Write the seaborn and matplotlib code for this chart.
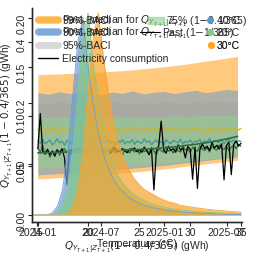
import numpy as np
import pandas as pd
import matplotlib
matplotlib.use("Agg")
import matplotlib.pyplot as plt
import matplotlib.dates as mdates
from matplotlib.lines import Line2D
from matplotlib.patches import Patch
import seaborn as sns

# ---------------- data ----------------
# weekly noisy quantile lines (GWh)
yellow_q = [0.112,0.105,0.118,0.109,0.101,0.114,0.120,0.108,0.111,0.099,0.116,0.107,0.113,0.121,0.104,0.110,0.117,0.102,0.109,0.115,0.106,0.119,0.111,0.103,0.114,0.108,0.122,0.105,0.112,0.117,0.100,0.113,0.109,0.118,0.106,0.111,0.104,0.116,0.110,0.121,0.107,0.113,0.102,0.115,0.109,0.119,0.105,0.112,0.117,0.108,0.114,0.101,0.110,0.120,0.106,0.113,0.116,0.104,0.111,0.118,0.107,0.115,0.109,0.103,0.117,0.112,0.121,0.106,0.110,0.114,0.100,0.116,0.108,0.119,0.111,0.105,0.113,0.118,0.107,0.115,0.110,0.120,0.104,0.112,0.116]
teal_q = [0.075,0.068,0.080,0.066,0.072,0.078,0.063,0.070,0.082,0.069,0.074,0.061,0.077,0.071,0.066,0.079,0.073,0.064,0.070,0.081,0.067,0.075,0.072,0.060,0.076,0.069,0.083,0.065,0.071,0.078,0.068,0.074,0.062,0.077,0.070,0.080,0.066,0.073,0.069,0.079,0.064,0.075,0.071,0.067,0.082,0.070,0.076,0.063,0.072,0.078,0.068,0.074,0.061,0.079,0.071,0.066,0.077,0.073,0.069,0.081,0.065,0.074,0.070,0.078,0.067,0.075,0.072,0.080,0.064,0.076,0.071,0.083,0.068,0.077,0.073,0.070,0.079,0.066,0.075,0.081,0.072,0.078,0.069,0.076,0.074]
green_q = [0.052,0.038,0.061,0.030,0.045,0.022,0.041,0.035,0.048,0.028,0.043,0.050,0.036,0.047,0.031,0.044,0.039,0.053,0.033,0.046,0.040,0.029,0.049,0.037,0.045,0.034,0.051,0.042,0.032,0.047,0.038,0.055,0.035,0.044,0.041,0.030,0.048,0.043,0.036,0.052,0.039,0.046,0.033,0.050,0.040,0.045,0.037,0.054,0.042,0.031,0.049,0.044,0.038,0.056,0.041,0.047,0.035,0.052,0.043,0.039,0.058,0.045,0.050,0.037,0.055,0.046,0.041,0.060,0.048,0.044,0.053,0.039,0.057,0.049,0.045,0.062,0.051,0.047,0.059,0.043,0.055,0.061,0.050,0.064,0.058]
consumption = [0.050,0.165,0.040,0.035,0.048,0.030,0.042,0.025,0.045,0.038,0.050,0.020,-0.068,0.035,0.046,0.040,0.052,0.037,0.044,0.050,0.041,0.047,0.036,0.049,0.043,0.038,0.051,0.044,0.040,0.048,0.035,0.046,0.053,0.039,0.045,0.050,0.042,0.037,0.049,0.044,0.052,0.040,0.046,0.038,0.055,0.043,0.030,0.048,-0.085,0.041,0.060,0.140,0.047,0.035,0.058,0.044,0.050,0.038,0.062,0.045,0.052,0.020,0.057,0.048,-0.050,0.055,-0.080,0.046,0.065,0.050,0.058,0.044,0.070,0.052,0.061,0.049,0.066,-0.052,0.060,0.072,-0.035,0.064,0.075,0.058,0.068]
# monthly smooth quantities
trend = [0.036,0.037,0.038,0.039,0.040,0.041,0.042,0.043,0.045,0.046,0.048,0.050,0.053,0.056,0.060,0.064,0.069,0.075,0.082,0.090]
orange_hi = [0.292,0.293,0.294,0.296,0.297,0.299,0.301,0.303,0.305,0.308,0.311,0.314,0.318,0.322,0.326,0.331,0.336,0.341,0.346,0.352]
orange_lo = [-0.049,-0.047,-0.045,-0.043,-0.041,-0.039,-0.036,-0.033,-0.030,-0.027,-0.024,-0.020,-0.016,-0.012,-0.008,-0.004,0.000,0.004,0.008,0.012]
blue_hi = [0.233,0.228,0.236,0.230,0.238,0.232,0.227,0.235,0.231,0.239,0.229,0.234,0.237,0.230,0.236,0.241,0.233,0.238,0.244,0.240]
blue_lo = [-0.036,-0.034,-0.032,-0.030,-0.028,-0.026,-0.023,-0.020,-0.017,-0.014,-0.011,-0.008,-0.005,-0.001,0.003,0.007,0.011,0.015,0.019,0.023]
gray_hi = [0.200,0.196,0.203,0.198,0.194,0.201,0.197,0.204,0.199,0.195,0.202,0.198,0.205,0.200,0.196,0.203,0.199,0.206,0.201,0.204]
gray_lo = [0.056,0.055,0.057,0.056,0.058,0.057,0.056,0.058,0.059,0.058,0.060,0.059,0.061,0.062,0.061,0.063,0.064,0.063,0.065,0.066]
green_hi = [0.154,0.152,0.156,0.153,0.155,0.151,0.154,0.157,0.153,0.155,0.152,0.156,0.154,0.158,0.155,0.157,0.159,0.156,0.160,0.158]
green_lo = [-0.013,-0.012,-0.012,-0.011,-0.010,-0.009,-0.008,-0.007,-0.005,-0.003,-0.001,0.001,0.003,0.006,0.009,0.012,0.015,0.018,0.021,0.028]

# temperature densities
temp_grid = [14.5,15.0,15.5,16.0,16.5,17.0,17.5,18.0,18.5,19.0,19.5,20.0,20.5,21.0,21.5,22.0,22.5,23.0,23.5,24.0,24.5,
             25.0,25.5,26.0,26.5,27.0,27.5,28.0,28.5,29.0,29.5,30.0,30.5,31.0,31.5,32.0,32.5,33.0,33.5,34.0,34.5,35.0]
temp_groups = ["10°C", "20°C", "30°C"]
dens_10 = [0,0,0,0,0.0023,0.0088,0.026,0.064,0.122,0.176,0.200,0.151,0.113,0.083,0.062,0.047,0.036,0.028,0.023,0.018,0.015,
           0.012,0.010,0.0084,0.0071,0.006,0.0051,0.0044,0.0037,0.0032,0.0027,0.0024,0.002,0.0017,0.0015,0.0013,0.0011,0.0009,0.0008,0.0007,0.0006,0.0005]
dens_20 = [0,0,0,0,0,0.0023,0.009,0.027,0.066,0.125,0.180,0.205,0.155,0.116,0.086,0.065,0.050,0.039,0.031,0.025,0.021,
           0.017,0.015,0.012,0.0105,0.0091,0.0078,0.0068,0.0059,0.0052,0.0046,0.004,0.0035,0.0032,0.0028,0.0025,0.0023,0.002,0.0018,0.0016,0.0015,0.0014]
dens_30 = [0,0,0,0,0,0,0,0.0023,0.009,0.027,0.066,0.125,0.180,0.205,0.160,0.123,0.092,0.072,0.057,0.046,0.037,
           0.031,0.026,0.023,0.020,0.017,0.015,0.013,0.012,0.010,0.0091,0.0082,0.0075,0.0067,0.0061,0.0055,0.005,0.0046,0.0041,0.0036,0.0033,0.003]

# ---------------- style ----------------
FS = 7.5
sns.set_theme(style="ticks")
plt.rcParams["font.family"] = ["Liberation Sans", "DejaVu Sans"]
plt.rcParams.update({"font.size": FS, "axes.labelsize": FS, "xtick.labelsize": FS,
                     "ytick.labelsize": FS, "legend.fontsize": FS,
                     "axes.linewidth": 0.9, "mathtext.fontset": "dejavusans",
                     "xtick.major.size": 3, "ytick.major.size": 3,
                     "xtick.major.width": 0.8, "ytick.major.width": 0.8})

C_OR = "#ffa726"
C_BL = "#5f95d0"
C_GR = "#8fd18f"
C_GY = "#a0a0a0"
K_BL = "#6a9fd8"
K_GR = "#86c98a"
K_OR = "#f7a530"

fig = plt.figure(figsize=(2.54, 2.54), dpi=100)
rect = [32/254, 32/254, 210/254, 214/254]
ax_ts = fig.add_axes(rect)
ax_kde = fig.add_axes(rect)
ax_q = fig.add_axes(rect)
for a in (ax_kde, ax_q):
    a.patch.set_alpha(0)

wk = pd.date_range("2024-01-01", periods=len(yellow_q), freq="7D")
mo = pd.date_range("2024-01-01", periods=len(trend), freq="MS")

ax_ts.fill_between(mo, orange_lo, orange_hi, color=C_OR, alpha=0.6, lw=0)
ax_ts.fill_between(mo, blue_lo, blue_hi, color=C_BL, alpha=0.5, lw=0)
ax_ts.fill_between(mo, gray_lo, gray_hi, color=C_GY, alpha=0.35, lw=0)
ax_ts.fill_between(mo, green_lo, green_hi, color=C_GR, alpha=0.55, lw=0)
sns.lineplot(x=wk, y=yellow_q, ax=ax_ts, color="#d4b21e", lw=0.9)
sns.lineplot(x=pd.date_range("2024-01-01", periods=len(teal_q), freq="7D"), y=teal_q, ax=ax_ts, color="#3a9a8f", lw=0.9)
sns.lineplot(x=pd.date_range("2024-01-01", periods=len(green_q), freq="7D"), y=green_q, ax=ax_ts, color="#2f6b3a", lw=0.9)
sns.lineplot(x=pd.date_range("2024-01-01", periods=len(consumption), freq="7D"), y=consumption, ax=ax_ts, color="black", lw=0.9)
sns.lineplot(x=mo, y=trend, ax=ax_ts, color="#2e6b45", lw=1.2)

ax_ts.set_xlim(pd.Timestamp("2023-12-15"), pd.Timestamp("2025-08-14"))
ax_ts.set_ylim(-0.19, 0.51)
ax_ts.set_yticks([0.0, 0.2, 0.4])
ax_ts.xaxis.set_major_locator(mdates.MonthLocator(bymonth=(1, 7)))
ax_ts.xaxis.set_major_formatter(mdates.DateFormatter("%Y-%m"))
ax_ts.set_xlabel("")
ax_ts.set_ylabel("")

# densities
dens_df = pd.DataFrame({
    "Temperature": temp_grid * 3,
    "Density": dens_10 + dens_20 + dens_30,
    "Group": [g for g in temp_groups for _ in temp_grid],
})
for g, col in zip(temp_groups, (K_BL, K_GR, K_OR)):
    sub = dens_df[dens_df["Group"] == g]
    ax_kde.fill_between(sub["Temperature"], 0, sub["Density"], color=col, alpha=0.72, lw=0)
    sns.lineplot(data=sub, x="Temperature", y="Density", color=col, lw=0.6, ax=ax_kde)
ax_kde.set_xlim(14.5, 35.1)
ax_kde.set_ylim(-0.0071, 0.2101)
ax_kde.set_xticks([15, 20, 25, 30, 35])
ax_kde.set_yticks([0.0, 0.05, 0.10, 0.15, 0.20])
ax_kde.set_xlabel("Temperature (°C)", labelpad=1)
ax_kde.set_ylabel("")

# third axes: quantile labels and legends
ax_q.set_xticks([0.5])
ax_q.set_yticks([0.5])
ax_q.set_xlabel(r"$Q_{Y_{T+1}|Z_{T+1}}(1-0.4/365)$ (gWh)", labelpad=1)
ax_q.set_ylabel(r"$Q_{Y_{T+1}|Z_{T+1}}(1-0.4/365)$ (gWh)", labelpad=1)

for a in (ax_ts, ax_kde, ax_q):
    a.tick_params(axis="y", labelrotation=90, pad=1)
    a.tick_params(axis="x", pad=1)
    for s in ("top", "right"):
        a.spines[s].set_visible(False)
ax_q.tick_params(length=3, labelcolor="none", color="none")


def row_legend(handle, label, x_px, y_px, hl, htp, loc="center left"):
    leg = ax_q.legend([handle], [label], loc=loc,
                      bbox_to_anchor=((x_px - 32) / 210, (222 - y_px) / 214),
                      frameon=False, borderaxespad=0, borderpad=0,
                      handlelength=hl, handletextpad=htp)
    ax_q.add_artist(leg)


def band_handle(col, a=1.0):
    return Line2D([], [], color=col, alpha=a, lw=5, solid_capstyle="round")


rows_y = [21, 33, 46, 59]
left_labels = [r"Past, median for $Q_{Y_{T+1}|Z_{T+1}}$", r"Post, median for $Q_{Y_{T+1}|Z_{T+1}}$",
               "95%-BACI", "Electricity consumption"]
left_handles = [band_handle(C_OR, 0.6), band_handle(C_BL, 0.55), band_handle("#d8d8d8"),
                Line2D([], [], color="black", lw=1)]
for h, lab, y in zip(left_handles, left_labels, rows_y):
    row_legend(h, lab, 38, y, 1.9, 0.45)
for h, lab, y in zip([band_handle(C_OR, 0.6), band_handle(C_BL, 0.55)], ["99%-BACI", "90%-BACI"], rows_y[:2]):
    row_legend(h, lab, 38, y, 1.9, 0.45)
row_legend(Patch(color=C_GR, alpha=0.6), r"75% (1$-$0.4/365)", 148, rows_y[0], 1.5, 0.2)
row_legend(Line2D([], [], color="black", lw=0.8), r"Past (1$-$1/365)", 140, rows_y[1], 1.9, 0.2)
for c, lab, y in zip((C_BL, K_GR, C_OR), temp_groups, rows_y[:3]):
    row_legend(Line2D([], [], marker="o", ls="", color=c, markersize=4), lab, 240, y, 0.8, 0.2,
               loc="center right")

fig.savefig("out.png", dpi=100)
